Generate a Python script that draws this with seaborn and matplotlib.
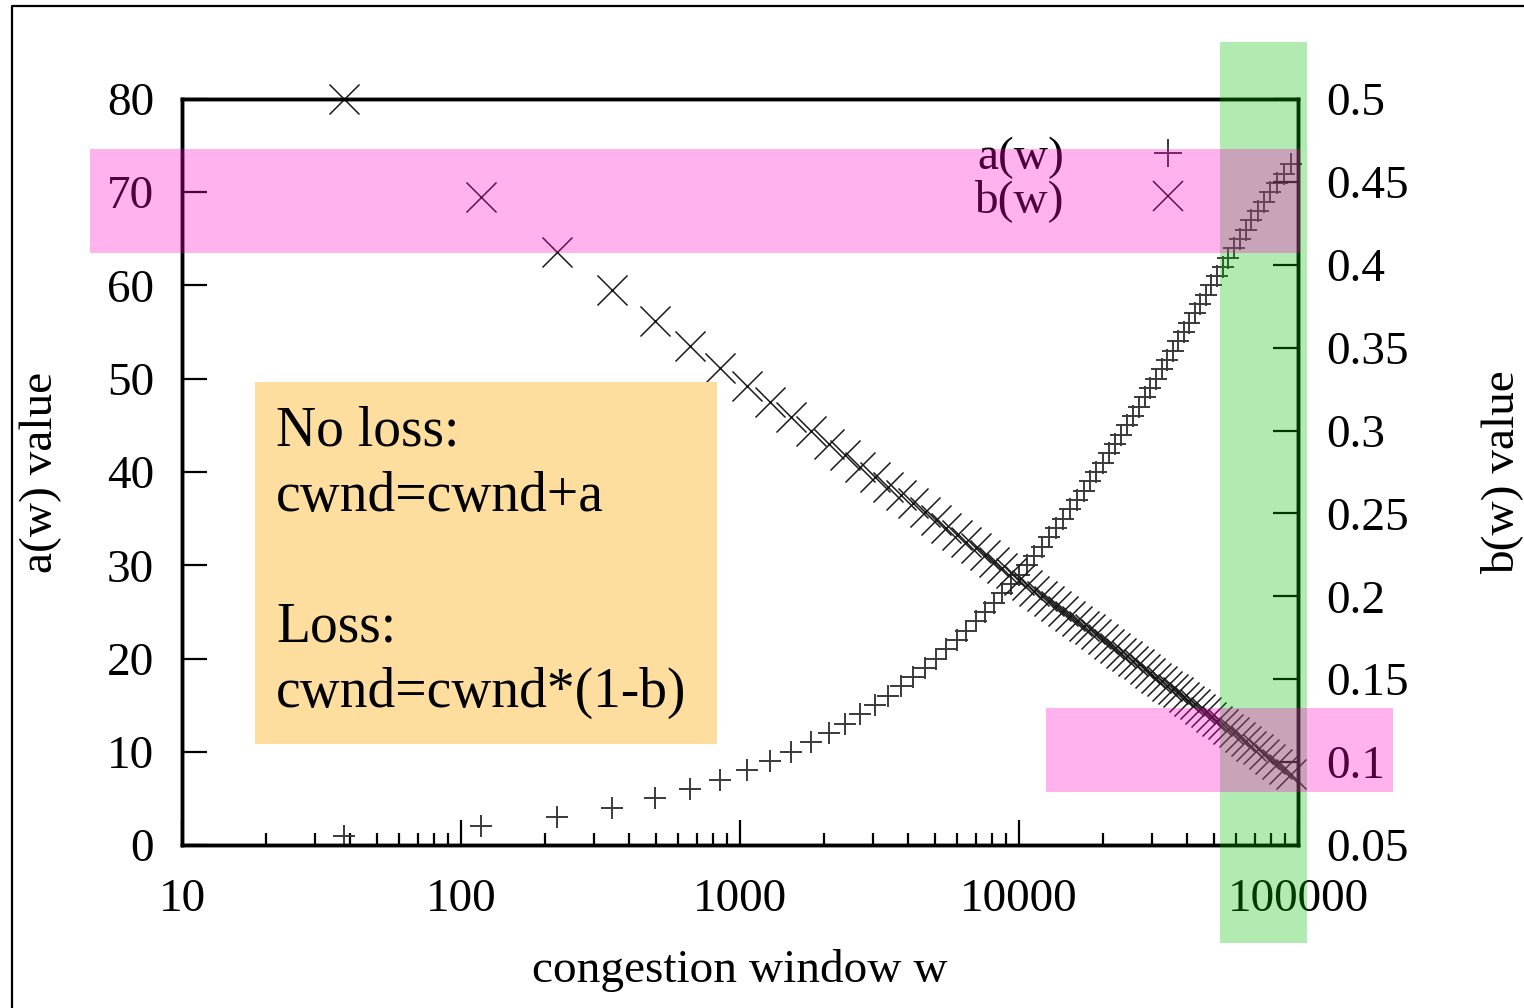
import matplotlib.pyplot as plt
import seaborn as sns
from matplotlib.lines import Line2D
from matplotlib.patches import Rectangle
from matplotlib.ticker import LogLocator, NullFormatter, FuncFormatter

sns.set_theme(style='white')
plt.rcParams['font.family'] = ['Liberation Serif', 'DejaVu Serif']
plt.rcParams['text.color'] = 'black'
plt.rcParams['axes.labelcolor'] = 'black'
plt.rcParams['xtick.color'] = 'black'
plt.rcParams['ytick.color'] = 'black'

# HighSpeed TCP table: congestion window and its a(w) / b(w) values
window = [38, 118, 221, 347, 495, 663, 851, 1058, 1284, 1529, 1793, 2076, 2378,
          2699, 3039, 3399, 3778, 4177, 4596, 5036, 5497, 5979, 6483, 7009, 7558,
          8130, 8726, 9346, 9991, 10661, 11358, 12082, 12834, 13614, 14424, 15265,
          16137, 17042, 17981, 18955, 19965, 21013, 22101, 23230, 24402, 25618,
          26881, 28193, 29557, 30975, 32450, 33986, 35586, 37253, 38992, 40808,
          42707, 44694, 46776, 48961, 51258, 53677, 56230, 58932, 61799, 64851,
          68113, 71617, 75401, 79517, 84035, 89053, 94717]
a_values = [1, 2, 3, 4, 5, 6, 7, 8, 9, 10, 11, 12, 13, 14, 15, 16, 17, 18, 19, 20,
            21, 22, 23, 24, 25, 26, 27, 28, 29, 30, 31, 32, 33, 34, 35, 36, 37, 38,
            39, 40, 41, 42, 43, 44, 45, 46, 47, 48, 49, 50, 51, 52, 53, 54, 55, 56,
            57, 58, 59, 60, 61, 62, 63, 64, 65, 66, 67, 68, 69, 70, 71, 72, 73]
b_values = [0.500, 0.441, 0.408, 0.385, 0.366, 0.351, 0.338, 0.327, 0.317, 0.308,
            0.300, 0.292, 0.285, 0.278, 0.272, 0.266, 0.261, 0.256, 0.251, 0.246,
            0.241, 0.237, 0.233, 0.229, 0.225, 0.221, 0.217, 0.214, 0.210, 0.207,
            0.203, 0.200, 0.197, 0.194, 0.191, 0.188, 0.185, 0.182, 0.180, 0.177,
            0.174, 0.171, 0.169, 0.166, 0.164, 0.161, 0.159, 0.156, 0.154, 0.151,
            0.149, 0.146, 0.144, 0.142, 0.139, 0.137, 0.135, 0.132, 0.130, 0.127,
            0.125, 0.123, 0.120, 0.118, 0.115, 0.113, 0.110, 0.108, 0.105, 0.102,
            0.099, 0.096, 0.093]
a_ticks = [0, 10, 20, 30, 40, 50, 60, 70, 80]
b_ticks = [0.05, 0.1, 0.15, 0.2, 0.25, 0.3, 0.35, 0.4, 0.45, 0.5]

W, H = 1524, 1008
fig = plt.figure(figsize=(W / 100, H / 100), dpi=100)
ax = fig.add_axes([182 / W, 1 - 845 / H, 1116 / W, 746 / H])
ax2 = ax.twinx()

sns.scatterplot(x=window, y=a_values, marker='+', s=250, color='#3a3a3a',
                linewidth=1.4, clip_on=False, ax=ax)
sns.scatterplot(x=window, y=b_values, marker='x', s=467, color='#1a1a1a',
                linewidth=1.1, clip_on=False, ax=ax2)

ax.set_xscale('log')
ax.set_xlim(10, 100000)
ax.set_ylim(0, 80)
ax2.set_ylim(0.05, 0.5)

ax.xaxis.set_major_locator(LogLocator(base=10, numticks=10))
ax.xaxis.set_major_formatter(FuncFormatter(lambda v, p: f'{int(round(v))}'))
ax.xaxis.set_minor_locator(LogLocator(base=10, subs=range(2, 10), numticks=20))
ax.xaxis.set_minor_formatter(NullFormatter())
ax.set_yticks(a_ticks)
ax2.set_yticks(b_ticks)
ax2.yaxis.set_major_formatter(FuncFormatter(lambda v, p: f'{v:g}'))

fs = 34
ax.tick_params(axis='x', which='major', direction='in', length=18, width=1.6,
               labelsize=fs, pad=24, top=False, bottom=True)
ax.tick_params(axis='x', which='minor', direction='in', length=9, width=1.6,
               top=False, bottom=True)
ax.tick_params(axis='y', direction='in', length=18, width=1.6, labelsize=fs,
               pad=20, right=False, left=True)
ax2.tick_params(axis='y', direction='in', length=18, width=1.6, labelsize=fs,
                pad=20, right=True, left=False)
for a_ in (ax, ax2):
    for sp in a_.spines.values():
        sp.set_linewidth(2.5)
        sp.set_color('black')
    a_.grid(False)

ax.set_xlabel('congestion window w', fontsize=fs)
ax.xaxis.set_label_coords(0.5, -0.14)
ax.set_ylabel('a(w) value', fontsize=fs)
ax.yaxis.set_label_coords(-0.1075, 0.5)
ax2.set_ylabel('b(w) value', fontsize=fs, rotation=90)
ax2.yaxis.set_label_coords(1.163, 0.5)

handles = [Line2D([], [], ls='', marker='+', ms=20, mew=1.4, color='#3a3a3a', label='a(w)'),
           Line2D([], [], ls='', marker='x', ms=21, mew=1.1, color='#1a1a1a', label='b(w)')]
ax2.legend(handles=handles, loc='upper right', markerfirst=False, frameon=False,
           fontsize=fs, handlelength=2, handletextpad=1.2, labelspacing=0,
           borderpad=0, borderaxespad=0,
           bbox_to_anchor=(1215 / W, 1 - 136 / H), bbox_transform=fig.transFigure)

# outer frame (top and left only)
fig.add_artist(Line2D([12 / W, 12 / W, 1], [0, 1 - 6 / H, 1 - 6 / H],
                      transform=fig.transFigure, color='black', lw=1.6))


def fig_rect(x0, y0, x1, y1, **kw):
    fig.add_artist(Rectangle((x0 / W, 1 - y1 / H), (x1 - x0) / W, (y1 - y0) / H,
                             transform=fig.transFigure, lw=0, **kw))


fig_rect(255, 382, 717, 744, facecolor='#fdde9e', zorder=10)
fig.text(276 / W, 1 - 562 / H, 'No loss:\ncwnd=cwnd+a\n\nLoss:\ncwnd=cwnd*(1-b)',
         fontsize=40, ha='left', va='center', linespacing=1.33, zorder=11)
fig_rect(1220, 42, 1307, 943, facecolor=(0.0, 0.75, 0.0), alpha=0.3, zorder=12)
fig_rect(90, 149, 1300, 253, facecolor=(1.0, 0.0, 0.78), alpha=0.3, zorder=13)
fig_rect(1046, 708, 1393, 792, facecolor=(1.0, 0.0, 0.78), alpha=0.3, zorder=13)

fig.savefig('out.png', dpi=100)
